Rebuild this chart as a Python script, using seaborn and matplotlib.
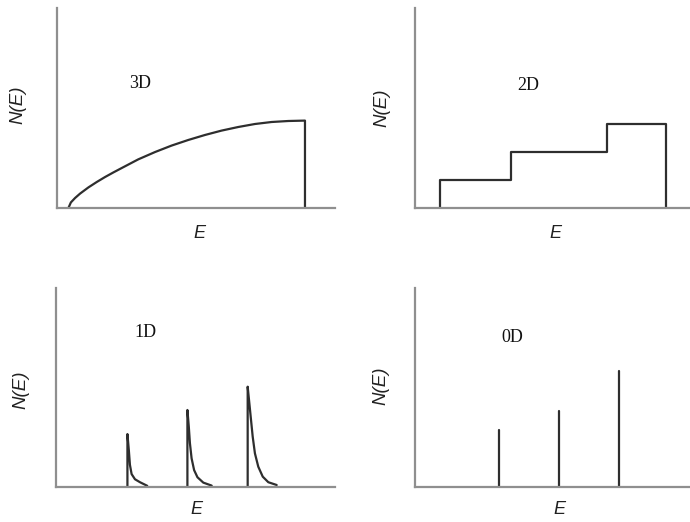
import numpy as np
import pandas as pd
import matplotlib
matplotlib.use("Agg")
import matplotlib.pyplot as plt
import seaborn as sns

# ---------------- data (arbitrary units 0-100) ----------------
# 3D: N(E) rises like a square root, then drops at the cut-off
curve3d_E = [4.1, 5.0, 6.5, 8.3, 11.3, 14.3, 17.3, 20.3, 23.3, 29.2, 35.3,
             41.2, 47.2, 53.2, 59.2, 65.2, 71.2, 77.2, 83.2, 89.2]
curve3d_N = [0.0, 2.8, 5.0, 7.2, 10.3, 13.0, 15.5, 17.8, 20.0, 24.3, 28.0,
             31.2, 34.0, 36.5, 38.7, 40.5, 42.0, 43.0, 43.5, 43.7]

# 2D: staircase
step_edges = [9.1, 34.9, 69.8, 91.3]
step_levels = [14.0, 28.0, 42.0]

# 1D: three peaks (rise then decaying tail)
peak1_E = [25.6, 25.6, 26.1, 26.5, 27.1, 28.3, 30.1, 32.7]
peak1_N = [0.0, 26.6, 18.6, 11.1, 6.5, 3.9, 2.4, 0.6]
peak2_E = [47.1, 47.1, 47.6, 48.0, 48.6, 49.5, 50.7, 52.8, 55.8]
peak2_N = [0.0, 38.7, 30.3, 22.0, 14.4, 8.5, 4.9, 2.2, 0.7]
peak3_E = [68.7, 68.7, 69.3, 69.9, 70.5, 71.3, 72.5, 74.1, 76.1, 79.1]
peak3_N = [0.0, 50.4, 42.1, 33.7, 25.3, 16.9, 10.2, 5.2, 2.4, 1.0]

# 0D: discrete levels
level_E = [30.5, 52.4, 74.2]
level_N = [28.6, 38.2, 58.3]

panel_labels = ["3D", "2D", "1D", "0D"]
x_label = "E"
y_label = "N(E)"

# ---------------- style ----------------
sns.set_style("white")
plt.rcParams["font.family"] = ["DejaVu Sans"]

AXIS_COLOR = "#8f8f8f"
LINE_COLOR = "#2e2e2e"
LW = 1.6

fig = plt.figure(figsize=(6.9, 5.22), dpi=100)
W, H = 690.0, 522.0

def make_ax(left_px, right_px, top_px, bottom_px):
    return fig.add_axes([left_px / W, 1 - bottom_px / H,
                         (right_px - left_px) / W, (bottom_px - top_px) / H])

ax1 = make_ax(57, 335, 8, 208)
ax2 = make_ax(415, 690, 8, 208)
ax3 = make_ax(56, 335, 288, 487)
ax4 = make_ax(415, 690, 288, 487)
axes = [ax1, ax2, ax3, ax4]

line_kw = dict(sort=False, estimator=None, color=LINE_COLOR, lw=LW,
               solid_joinstyle="round")

# 3D
df3 = pd.DataFrame({"E": curve3d_E + [curve3d_E[-1]], "N": curve3d_N + [0.0]})
sns.lineplot(data=df3, x="E", y="N", ax=ax1, **line_kw)

# 2D
sE, sN = [step_edges[0]], [0.0]
for i, lvl in enumerate(step_levels):
    sE += [step_edges[i], step_edges[i + 1]]
    sN += [lvl, lvl]
sE.append(step_edges[-1]); sN.append(0.0)
df2 = pd.DataFrame({"E": sE, "N": sN})
sns.lineplot(data=df2, x="E", y="N", ax=ax2, **line_kw)

# 1D
rows = []
for k, (pe, pn) in enumerate([(peak1_E, peak1_N), (peak2_E, peak2_N), (peak3_E, peak3_N)]):
    for e, n in zip(pe, pn):
        rows.append({"E": e, "N": n, "peak": k})
df1 = pd.DataFrame(rows)
sns.lineplot(data=df1, x="E", y="N", units="peak", ax=ax3, **line_kw)

# 0D
rows = []
for k, (e, n) in enumerate(zip(level_E, level_N)):
    rows.append({"E": e, "N": 0.0, "lvl": k})
    rows.append({"E": e, "N": n, "lvl": k})
df0 = pd.DataFrame(rows)
sns.lineplot(data=df0, x="E", y="N", units="lvl", ax=ax4, **line_kw)

# panel text positions (axes fraction)
label_pos = [(0.299, 0.62), (0.411, 0.615), (0.319, 0.774), (0.353, 0.749)]
ylab_x = [-0.14, -0.12, -0.125, -0.125]
ylab_y = [0.515, 0.50, 0.49, 0.51]
xlab_x = [0.514, 0.509, 0.502, 0.524]
xlab_y = [-0.125, -0.125, -0.115, -0.115]

for i, ax in enumerate(axes):
    ax.set_xlim(0, 100)
    ax.set_ylim(0, 100)
    ax.set_xticks([]); ax.set_yticks([])
    for s in ["top", "right"]:
        ax.spines[s].set_visible(False)
    for s in ["left", "bottom"]:
        ax.spines[s].set_color(AXIS_COLOR)
        ax.spines[s].set_linewidth(1.6)
    ax.set_facecolor("none")
    ax.set_xlabel(x_label, fontsize=13, fontstyle="italic", family="Liberation Sans")
    ax.set_ylabel(y_label, fontsize=13.5, fontstyle="italic", family="Liberation Sans")
    ax.xaxis.set_label_coords(xlab_x[i], xlab_y[i])
    ax.yaxis.set_label_coords(ylab_x[i], ylab_y[i])
    ax.xaxis.label.set_va("center")
    ax.yaxis.label.set_va("center")
    ax.xaxis.label.set_color("#222222")
    ax.yaxis.label.set_color("#222222")
    ax.text(label_pos[i][0], label_pos[i][1], panel_labels[i], transform=ax.transAxes,
            ha="center", va="center", fontsize=13, family="Liberation Serif",
            color="#111111")

fig.savefig("out.png", dpi=100, facecolor="white")
